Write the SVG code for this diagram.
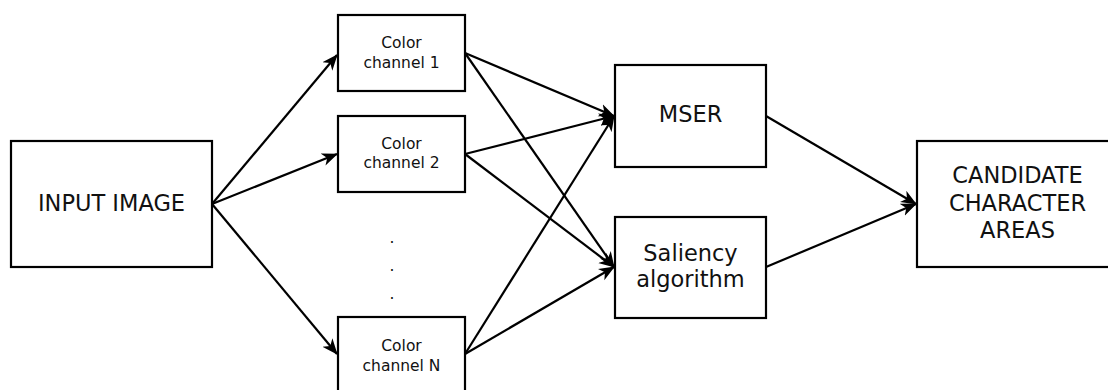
<svg xmlns="http://www.w3.org/2000/svg" width="1108" height="390" viewBox="0 0 1108 390">
<style>
.box{fill:#fff;stroke:#000;stroke-width:2.2}
.t{font-family:"DejaVu Sans",sans-serif;fill:#111;text-anchor:middle}
.big{font-size:22.5px}
.small{font-size:15.5px}
.edge{stroke:#000;stroke-width:2.2;fill:none;marker-end:url(#arr)}
</style>
<defs>
<marker id="arr" viewBox="0 0 16 14" refX="15" refY="7" markerWidth="16" markerHeight="14" markerUnits="userSpaceOnUse" orient="auto">
<path d="M0,0.5 L16,7 L0,13.5 L4.5,7 Z" fill="#000"/>
</marker>
</defs>
<rect width="1108" height="390" fill="#fff"/>
<g id="connectors">
<line class="edge" x1="212" y1="204" x2="337" y2="55"/>
<line class="edge" x1="212" y1="204" x2="337" y2="154"/>
<line class="edge" x1="212" y1="204" x2="337" y2="354"/>
<line class="edge" x1="465" y1="53" x2="614" y2="116"/>
<line class="edge" x1="465" y1="53" x2="614" y2="267"/>
<line class="edge" x1="465" y1="154" x2="614" y2="116"/>
<line class="edge" x1="465" y1="154" x2="614" y2="267"/>
<line class="edge" x1="465" y1="354" x2="614" y2="116"/>
<line class="edge" x1="465" y1="354" x2="614" y2="267"/>
<line class="edge" x1="766" y1="116" x2="916" y2="204"/>
<line class="edge" x1="766" y1="267" x2="916" y2="204"/>
</g>
<g id="input">
<rect class="box" x="11" y="141" width="201" height="126"/>
<text class="t big" x="111.5" y="211">INPUT IMAGE</text>
</g>
<g id="ch1">
<rect class="box" x="338" y="15" width="127" height="76"/>
<text class="t small" x="401.5" y="48">Color</text>
<text class="t small" x="401.5" y="68">channel 1</text>
</g>
<g id="ch2">
<rect class="box" x="338" y="116" width="127" height="76"/>
<text class="t small" x="401.5" y="149">Color</text>
<text class="t small" x="401.5" y="168">channel 2</text>
</g>
<g id="dots">
<text class="t small" x="392" y="243">.</text>
<text class="t small" x="392" y="271">.</text>
<text class="t small" x="392" y="299">.</text>
</g>
<g id="chN">
<rect class="box" x="338" y="317" width="127" height="76"/>
<text class="t small" x="401.5" y="351">Color</text>
<text class="t small" x="401.5" y="371">channel N</text>
</g>
<g id="mser">
<rect class="box" x="615" y="65" width="151" height="102"/>
<text class="t big" x="690.5" y="122">MSER</text>
</g>
<g id="saliency">
<rect class="box" x="615" y="217" width="151" height="101"/>
<text class="t big" x="690.5" y="261">Saliency</text>
<text class="t big" x="690.5" y="287">algorithm</text>
</g>
<g id="candidate">
<rect class="box" x="917" y="141" width="201" height="126"/>
<text class="t big" x="1017.5" y="183">CANDIDATE</text>
<text class="t big" x="1017.5" y="211">CHARACTER</text>
<text class="t big" x="1017.5" y="238">AREAS</text>
</g>
</svg>
